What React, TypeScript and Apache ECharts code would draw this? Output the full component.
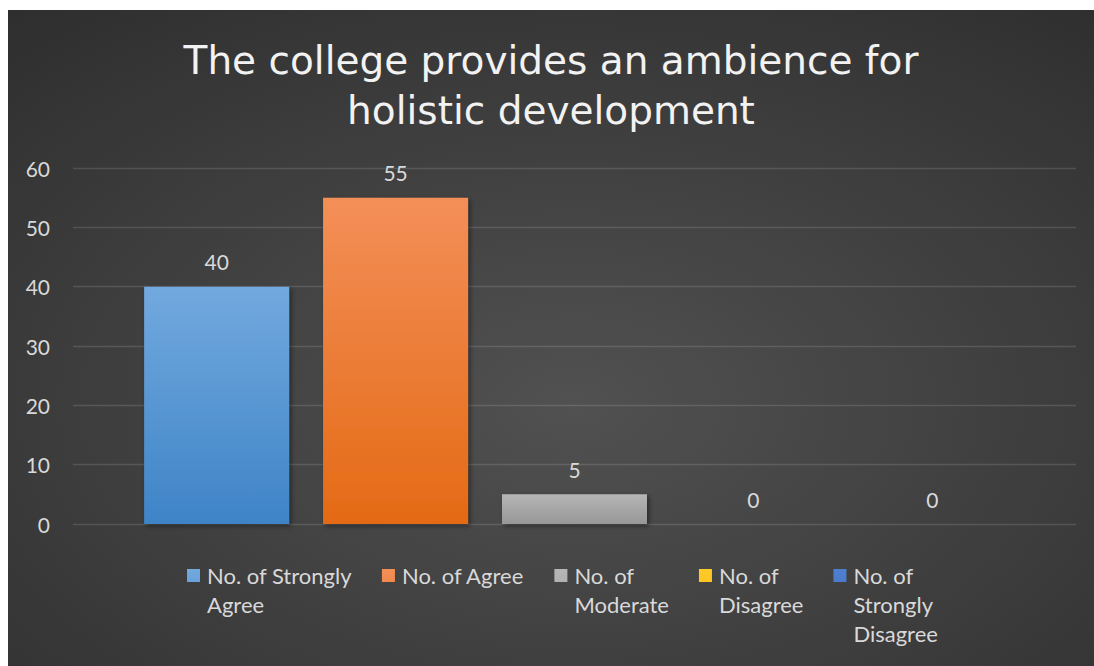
import React, { useEffect, useRef } from "react";
import * as echarts from "echarts";

const titleText = "The college provides an ambience for\nholistic development";
const categories = [""];
const seriesNames = [
  "No. of Strongly\nAgree",
  "No. of Agree",
  "No. of\nModerate",
  "No. of\nDisagree",
  "No. of\nStrongly\nDisagree",
];
const seriesValues = [40, 55, 5, 0, 0];
const seriesColors: [string, string][] = [
  ["#72a9de", "#3e84c7"],
  ["#f38f58", "#e46a15"],
  ["#b6b6b6", "#979797"],
  ["#ffc929", "#f0b400"],
  ["#4f7fd0", "#3a65b5"],
];
const yMin = 0;
const yMax = 60;
const yInterval = 10;

const FONT = "Lato, 'Noto Sans', sans-serif";
const LINE_H = 29;
const MAX_LINES = 3;
// square icon at the top of a tall invisible box, aligned with the first text line
const ICON_PATH = "path://M0,0M0,8h13v13h-13zM15,87";

export default function App() {
  const ref = useRef<HTMLDivElement>(null);
  useEffect(() => {
    if (!ref.current) return;
    const chart = echarts.init(ref.current, null, { renderer: "svg" });
    const series = seriesNames.map((name, i) => ({
      name,
      type: "bar",
      data: categories.map(() => seriesValues[i]),
      barWidth: 145,
      barGap: "23.4%",
      itemStyle: {
        color: {
          type: "linear",
          x: 0,
          y: 0,
          x2: 0,
          y2: 1,
          colorStops: [
            { offset: 0, color: seriesColors[i][0] },
            { offset: 1, color: seriesColors[i][1] },
          ],
        },
        shadowBlur: 5,
        shadowColor: "rgba(0,0,0,0.45)",
        shadowOffsetX: 2,
        shadowOffsetY: 2,
      },
      label: {
        show: true,
        position: "top",
        distance: 13,
        color: "#d9d9d9",
        fontSize: 21,
        lineHeight: 24,
        fontFamily: FONT,
      },
    }));
    chart.setOption({
      animation: false,
      backgroundColor: {
        type: "radial",
        x: 0.52,
        y: 0.6,
        r: 1.0,
        colorStops: [
          { offset: 0, color: "#515151" },
          { offset: 1, color: "#252525" },
        ],
      },
      title: {
        text: titleText,
        left: "center",
        top: 20,
        textStyle: {
          color: "#f2f2f2",
          fontSize: 39,
          fontWeight: "normal",
          lineHeight: 50,
          fontFamily: "'DejaVu Sans', sans-serif",
        },
      },
      grid: { left: 65, right: 18, top: 158, bottom: 142 },
      xAxis: {
        type: "category",
        data: categories,
        axisLabel: { show: false },
        axisTick: { show: false },
        axisLine: { show: false },
      },
      yAxis: {
        type: "value",
        min: yMin,
        max: yMax,
        interval: yInterval,
        axisLine: { show: false },
        axisTick: { show: false },
        axisLabel: {
          color: "#d9d9d9",
          fontSize: 21,
          margin: 23,
          fontFamily: FONT,
        },
        splitLine: { lineStyle: { color: "rgba(255,255,255,0.13)", width: 1.3 } },
      },
      legend: {
        left: 179,
        top: 551,
        padding: 0,
        itemWidth: 15,
        itemHeight: 87,
        itemGap: 30,
        icon: ICON_PATH,
        formatter: (name: string) => {
          const lines = name.split("\n").length;
          return name + "\n ".repeat(MAX_LINES - lines);
        },
        textStyle: {
          color: "#d9d9d9",
          fontSize: 22,
          lineHeight: LINE_H,
          fontFamily: FONT,
        },
        data: seriesNames,
      },
      series,
    });
    return () => chart.dispose();
  }, []);
  return (
    <div
      ref={ref}
      style={{ position: "absolute", left: 8, top: 10, width: 1086, height: 656 }}
    />
  );
}
